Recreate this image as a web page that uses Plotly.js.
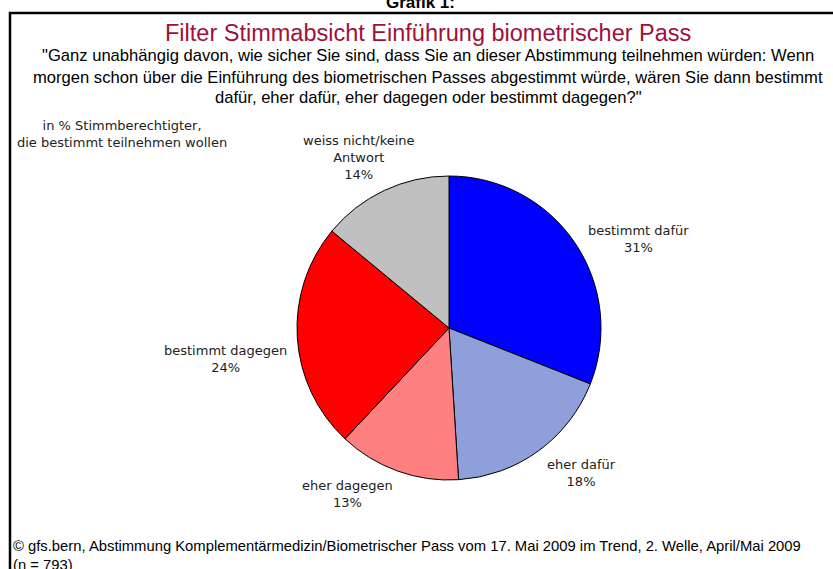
<!DOCTYPE html>
<html><head><meta charset="utf-8">
<script src="https://cdn.plot.ly/plotly-3.0.1.min.js"></script>
<style>html,body{margin:0;padding:0;background:#fff}#chart{width:833px;height:569px}</style>
</head><body><div id="chart"></div>
<script>
const categories = ["bestimmt dafür", "eher dafür", "eher dagegen", "bestimmt dagegen", "weiss nicht/keine Antwort"];
const labelLines = ["bestimmt dafür", "eher dafür", "eher dagegen", "bestimmt dagegen", "weiss nicht/keine<br>Antwort"];
const values = [31, 18, 13, 24, 14];
const colors = ["#0000FF", "#8E9FD9", "#FF8080", "#FF0000", "#C0C0C0"];

const W = 833, H = 569;
const px = x => x / W, py = y => 1 - y / H;
// label anchor positions (pixels)
const labelPos = [[638, 239], [581, 473], [347, 494], [225, 359], [359, 157]];

const font = "DejaVu Sans, sans-serif";
const narrow = "Liberation Sans, Arial, sans-serif";
const annotations = [];
categories.forEach((c, i) => {
  annotations.push({
    xref: "paper", yref: "paper", x: px(labelPos[i][0]), y: py(labelPos[i][1]),
    xanchor: "center", yanchor: "middle", showarrow: false, align: "center",
    text: labelLines[i] + "<br>" + values[i] + "%",
    font: {family: font, size: 13, color: "#222"}
  });
});
annotations.push({xref:"paper", yref:"paper", x: px(420), y: py(3), xanchor:"center", yanchor:"middle", showarrow:false,
  text:"<b>Grafik 1:</b>", font:{family:narrow, size:17, color:"#000"}});
annotations.push({xref:"paper", yref:"paper", x: px(428), y: py(33), xanchor:"center", yanchor:"middle", showarrow:false,
  text:"Filter Stimmabsicht Einführung biometrischer Pass", font:{family:narrow, size:23.5, color:"#A0103C"}});
const quote = ["\"Ganz unabhängig davon, wie sicher Sie sind, dass Sie an dieser Abstimmung teilnehmen würden: Wenn",
  "morgen schon über die Einführung des biometrischen Passes abgestimmt würde, wären Sie dann bestimmt",
  "dafür, eher dafür, eher dagegen oder bestimmt dagegen?\""];
quote.forEach((q, i) => annotations.push({xref:"paper", yref:"paper", x: px(428), y: py(56 + 21*i), xanchor:"center", yanchor:"middle", showarrow:false,
  text: q, font:{family:narrow, size:16.6, color:"#000"}}));
annotations.push({xref:"paper", yref:"paper", x: px(122), y: py(134), xanchor:"center", yanchor:"middle", showarrow:false, align:"center",
  text:"in % Stimmberechtigter,<br>die bestimmt teilnehmen wollen", font:{family:font, size:13, color:"#222"}});
annotations.push({xref:"paper", yref:"paper", x: px(11), y: py(555), xanchor:"left", yanchor:"middle", showarrow:false, align:"left",
  text:"© gfs.bern, Abstimmung Komplementärmedizin/Biometrischer Pass vom 17. Mai 2009 im Trend, 2. Welle, April/Mai 2009<br>(n = 793)",
  font:{family:narrow, size:14.8, color:"#000"}});

const data = [{
  type: "pie", labels: categories, values: values, sort: false, direction: "clockwise", rotation: 0,
  marker: {colors: colors, line: {color: "#000", width: 1}},
  textinfo: "none", hoverinfo: "label+percent",
  domain: {x: [px(449-152), px(449+152)], y: [py(328+152), py(328-152)]}
}];
const layout = {
  width: W, height: H, margin: {l:0, r:0, t:0, b:0}, showlegend: false,
  paper_bgcolor: "#fff", annotations: annotations,
  shapes: [{type:"path", xref:"paper", yref:"paper",
    path: `M ${px(10)} ${py(600)} L ${px(10)} ${py(13)} L ${px(900)} ${py(13)}`,
    line:{color:"#000", width:2.5}}]
};
Plotly.newPlot("chart", data, layout, {staticPlot: true});
</script></body></html>
